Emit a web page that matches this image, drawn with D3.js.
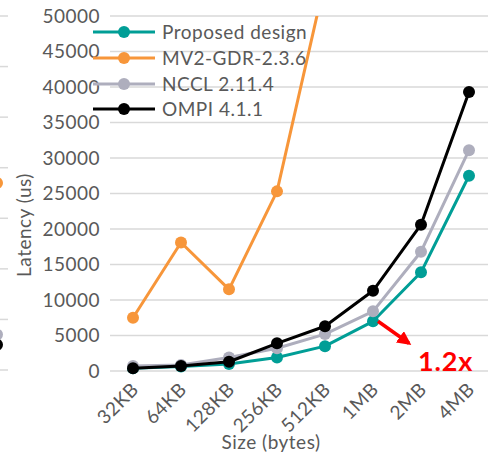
<!DOCTYPE html>
<html>
<head>
<meta charset="utf-8">
<script src="https://cdn.jsdelivr.net/npm/d3@7"></script>
<style>
  html, body { margin: 0; padding: 0; background: #fff; }
  svg { display: block; font-family: Lato, "Open Sans", sans-serif; }
  .lbl { font-size: 19px; letter-spacing: 0.5px; fill: #595959; }
</style>
</head>
<body>
<svg id="chart" width="488" height="454"></svg>
<script>
// Message sizes on the x axis
const sizes = ["32KB", "64KB", "128KB", "256KB", "512KB", "1MB", "2MB", "4MB"];

// Latency in microseconds per library (null = above the axis range)
const proposed = [400, 650, 1000, 1900, 3500, 7000, 13900, 27500];
const mv2gdr   = [7500, 18100, 11500, 25300, 55000, null, null, null];
const nccl     = [700, 850, 1900, 3200, 5200, 8400, 16800, 31100];
const ompi     = [400, 700, 1300, 3900, 6300, 11300, 20600, 39300];

const seriesNames  = ["Proposed design", "MV2-GDR-2.3.6", "NCCL 2.11.4", "OMPI 4.1.1"];
const seriesValues = [proposed, mv2gdr, nccl, ompi];
const seriesColors = ["#009e96", "#f7963a", "#aeaebd", "#000000"];

// Y axis ticks
const yTicks = [0, 5000, 10000, 15000, 20000, 25000, 30000, 35000, 40000, 45000, 50000];

// Right edge of the neighbouring panel (last points of its series)
const neighbourTicks  = [0, 5000, 10000, 15000, 20000, 25000, 30000, 35000];
const neighbourLast   = [null, 18500, 3500, 2500];

const speedupLabel = "1.2x";

const svg = d3.select("#chart");
const gridColor = "#d9d9d9";

const x = d3.scalePoint().domain(sizes).range([109, 493]).padding(0.5);
const y = d3.scaleLinear().domain([0, 50000]).range([371, 16]);

// --- neighbouring panel, only its right edge is in view ---
const yN = d3.scaleLinear().domain([0, 35000]).range([370, 16]);
const nb = svg.append("g");
nb.selectAll("line").data(neighbourTicks).join("line")
  .attr("x1", 0).attr("x2", 8)
  .attr("y1", d => yN(d)).attr("y2", d => yN(d))
  .attr("stroke", gridColor).attr("stroke-width", 1.5);
nb.selectAll("circle").data(neighbourLast.map((v, i) => ({v, i})).filter(d => d.v !== null))
  .join("circle")
  .attr("cx", -3).attr("cy", d => yN(d.v)).attr("r", 6)
  .attr("fill", d => seriesColors[d.i]);

// --- gridlines ---
svg.append("g").selectAll("line").data(yTicks).join("line")
  .attr("x1", 110).attr("x2", 488)
  .attr("y1", d => y(d)).attr("y2", d => y(d))
  .attr("stroke", gridColor).attr("stroke-width", 1.5);

// --- y axis tick labels ---
svg.append("g").selectAll("text").data(yTicks).join("text")
  .attr("class", "lbl")
  .attr("x", 100).attr("y", d => y(d))
  .attr("dy", "0.35em")
  .attr("text-anchor", "end")
  .text(d => d);

// --- x axis tick labels ---
svg.append("g").selectAll("text").data(sizes).join("text")
  .attr("class", "lbl")
  .attr("transform", d => `translate(${x(d) + 2},${386}) rotate(-45)`)
  .attr("dy", "0.35em")
  .attr("text-anchor", "end")
  .text(d => d);

// --- axis titles ---
svg.append("text")
  .attr("class", "lbl")
  .attr("transform", "translate(31,225) rotate(-90)")
  .attr("text-anchor", "middle")
  .text("Latency (us)");

svg.append("text")
  .attr("class", "lbl")
  .attr("x", 271).attr("y", 449)
  .attr("text-anchor", "middle")
  .text("Size (bytes)");

// --- series ---
svg.append("clipPath").attr("id", "plotClip")
  .append("rect").attr("x", 0).attr("y", 16).attr("width", 488).attr("height", 400);

const plot = svg.append("g").attr("clip-path", "url(#plotClip)");
const line = d3.line()
  .defined(d => d.v !== null)
  .x(d => x(d.s))
  .y(d => y(d.v));

seriesValues.forEach((vals, i) => {
  const pts = vals.map((v, j) => ({s: sizes[j], v}));
  const g = plot.append("g");
  g.append("path")
    .datum(pts)
    .attr("d", line)
    .attr("fill", "none")
    .attr("stroke", seriesColors[i])
    .attr("stroke-width", 3)
    .attr("stroke-linejoin", "round");
  g.selectAll("circle").data(pts.filter(d => d.v !== null && d.v <= 50000)).join("circle")
    .attr("cx", d => x(d.s)).attr("cy", d => y(d.v)).attr("r", 6)
    .attr("fill", seriesColors[i]);
});

// --- legend ---
const legend = svg.append("g");
const legendRows = [32, 58, 84, 109];
seriesNames.forEach((name, i) => {
  const row = legend.append("g").attr("transform", `translate(0,${legendRows[i]})`);
  row.append("line").attr("x1", 93).attr("x2", 155).attr("y1", 0).attr("y2", 0)
    .attr("stroke", seriesColors[i]).attr("stroke-width", 3);
  row.append("circle").attr("cx", 124).attr("cy", 0).attr("r", 6)
    .attr("fill", seriesColors[i]);
  row.append("text").attr("class", "lbl")
    .attr("x", 162).attr("y", 0).attr("dy", "0.35em")
    .text(name);
});

// --- speedup annotation ---
const ax0 = x("1MB") + 5, ay0 = y(proposed[5]);
const ax1 = ax0 + 31, ay1 = ay0 + 22;
svg.append("defs").append("marker")
  .attr("id", "arrowHead")
  .attr("viewBox", "0 0 10 10")
  .attr("refX", 8).attr("refY", 5)
  .attr("markerWidth", 4).attr("markerHeight", 4)
  .attr("markerUnits", "strokeWidth")
  .attr("orient", "auto")
  .append("path").attr("d", "M0,0 L10,5 L0,10 z").attr("fill", "#ff0000");
svg.append("line")
  .attr("x1", ax0).attr("y1", ay0).attr("x2", ax1).attr("y2", ay1)
  .attr("stroke", "#ff0000").attr("stroke-width", 3.5)
  .attr("marker-end", "url(#arrowHead)");
svg.append("text")
  .attr("x", 418).attr("y", 371)
  .attr("fill", "#ff0000")
  .attr("font-size", 27)
  .attr("font-weight", "bold")
  .attr("letter-spacing", 0.8)
  .text(speedupLabel);
</script>
</body>
</html>
